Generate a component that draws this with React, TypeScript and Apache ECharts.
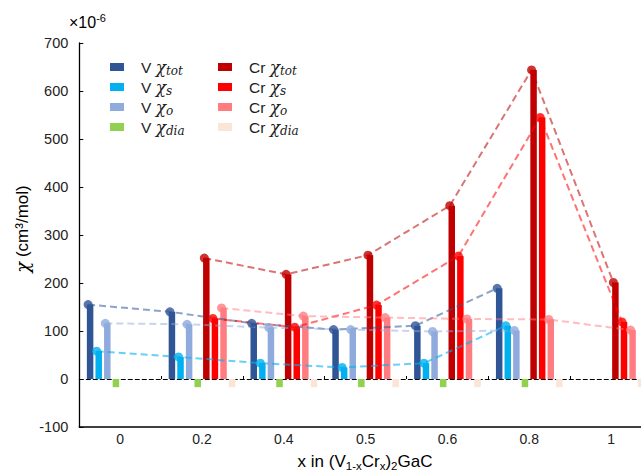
import { useEffect, useRef } from 'react';
import * as echarts from 'echarts';

// ---- data ----
const categories = ['0', '0.2', '0.4', '0.5', '0.6', '0.8', '1'];
const vTot = [155, 140, 116, 103, 111, 189, null];
const vS = [58, 46, 33, 24, 33, 111, null];
const vO = [116, 114, 107, 103, 99, 101, null];
const vDia = [-17, -17, -17, -17, -17, -17, null];
const crTot = [null, 252, 218, 258, 361, 644, 201];
const crS = [null, 126, 108, 154, 256, 545, 119];
const crO = [null, 148, 131, 128, 125, 124, 102];
const crDia = [null, -17, -17, -17, -17, -17, -17];
const yMin = -100;
const yMax = 700;
const yStep = 100;

// ---- layout / style ----
// the plot runs a little past the right edge of the 641px picture
const W = 652;
const H = 472;
const GRID_LEFT = 79.3;
const GRID_RIGHT = 0;
const GRID_TOP = 43;
const GRID_BOTTOM = 45;
const BAR_W = 6.5;
const BAR_GAP_PX = 2.1;
const MARKER_SHIFT = -2;
const FONT = 'Liberation Sans';
const MATH = 'DejaVu Serif';

type S = {
  name: string;
  prefix: string;
  sub: string;
  data: (number | null)[];
  color: string;
  line: boolean;
  lineOpacity: number;
};

const seriesDefs: S[] = [
  { name: 'V tot', prefix: 'V ', sub: 'tot', data: vTot, color: '#2F5597', line: true, lineOpacity: 0.55 },
  { name: 'V s', prefix: 'V ', sub: 's', data: vS, color: '#00B0F0', line: true, lineOpacity: 0.6 },
  { name: 'V o', prefix: 'V ', sub: 'o', data: vO, color: '#8FAADC', line: true, lineOpacity: 0.5 },
  { name: 'V dia', prefix: 'V ', sub: 'dia', data: vDia, color: '#92D050', line: false, lineOpacity: 0 },
  { name: 'Cr tot', prefix: 'Cr ', sub: 'tot', data: crTot, color: '#C00000', line: true, lineOpacity: 0.55 },
  { name: 'Cr s', prefix: 'Cr ', sub: 's', data: crS, color: '#FF0000', line: true, lineOpacity: 0.55 },
  { name: 'Cr o', prefix: 'Cr ', sub: 'o', data: crO, color: '#FF7C80', line: true, lineOpacity: 0.5 },
  { name: 'Cr dia', prefix: 'Cr ', sub: 'dia', data: crDia, color: '#FBE5D6', line: false, lineOpacity: 0 },
];

const legendRich = {
  sp: { width: 12 },
  b: { fontSize: 15.5, fontFamily: FONT, color: '#222', lineHeight: 20 },
  c: { fontSize: 17, fontFamily: MATH, fontStyle: 'italic', color: '#222', lineHeight: 20 },
  s: { fontSize: 12, fontFamily: MATH, fontStyle: 'italic', color: '#222', lineHeight: 12, verticalAlign: 'bottom' },
};

export default function App() {
  const ref = useRef<HTMLDivElement>(null);

  useEffect(() => {
    document.body.style.margin = '0';
    document.body.style.overflow = 'hidden';
    document.documentElement.style.overflow = 'hidden';
    if (!ref.current) return;
    const chart = echarts.init(ref.current, undefined, { renderer: 'svg' });

    const n = seriesDefs.length;
    const catW = (W - GRID_LEFT - GRID_RIGHT) / categories.length;
    const pitch = BAR_W + BAR_GAP_PX;
    const offsetOf = (k: number) => ((k - (n - 1) / 2) * pitch + MARKER_SHIFT) / catW;

    const barSeries = seriesDefs.map((s) => ({
      name: s.name,
      type: 'bar',
      xAxisIndex: 0,
      yAxisIndex: 0,
      data: s.data,
      barWidth: BAR_W,
      barGap: `${(BAR_GAP_PX / BAR_W) * 100}%`,
      itemStyle: { color: s.color },
      silent: true,
      z: 2,
    }));

    const lineSeries = seriesDefs
      .map((s, k) => ({ s, k }))
      .filter(({ s }) => s.line)
      .map(({ s, k }) => ({
        name: s.name + ' trend',
        type: 'line',
        xAxisIndex: 2,
        yAxisIndex: 0,
        data: s.data
          .map((v, i) => (v == null ? null : [i + 0.5 + offsetOf(k), v]))
          .filter((p) => p !== null),
        symbol: 'circle',
        symbolSize: 9,
        itemStyle: { color: s.color, opacity: 0.8 },
        lineStyle: { color: s.color, width: 2, type: [7, 4], opacity: s.lineOpacity },
        silent: true,
        z: 3,
      }));

    const legendFormatter = (name: string) => {
      const s = seriesDefs.find((d) => d.name === name)!;
      return `{sp| }{b|${s.prefix}}{c|χ}{s|${s.sub}}`;
    };

    const legendBase = {
      top: 52,
      orient: 'vertical',
      icon: 'rect',
      itemWidth: 14,
      itemHeight: 8,
      itemGap: 0,
      formatter: legendFormatter,
      textStyle: { rich: legendRich, lineHeight: 20 },
      selectedMode: false,
    };

    const option = {
      animation: false,
      textStyle: { fontFamily: FONT },
      grid: { left: GRID_LEFT, right: GRID_RIGHT, top: GRID_TOP, bottom: GRID_BOTTOM },
      legend: [
        { ...legendBase, left: 105, data: seriesDefs.slice(0, 4).map((s) => s.name) },
        { ...legendBase, left: 213, data: seriesDefs.slice(4).map((s) => s.name) },
      ],
      xAxis: [
        {
          type: 'category',
          position: 'bottom',
          data: categories,
          axisLine: { onZero: false, lineStyle: { color: '#000', width: 1.5 } },
          axisTick: { show: false },
          axisLabel: { fontSize: 14, color: '#222', margin: 5, fontFamily: FONT },
          splitLine: { show: false },
        },
        {
          type: 'category',
          position: 'top',
          data: categories,
          axisLine: { show: true, onZero: true, lineStyle: { color: '#000', width: 1.2, type: [4, 3] } },
          axisTick: { show: true, inside: false, length: 3, lineStyle: { color: '#000', width: 1 } },
          axisLabel: { show: false },
          splitLine: { show: false },
        },
        {
          type: 'value',
          min: 0,
          max: categories.length,
          show: false,
          axisLine: { onZero: false },
          splitLine: { show: false },
        },
      ],
      yAxis: {
        type: 'value',
        min: yMin,
        max: yMax,
        interval: yStep,
        axisLine: { show: true, onZero: false, lineStyle: { color: '#000', width: 1.3 } },
        axisTick: { show: true, inside: true, length: 4, lineStyle: { color: '#000' } },
        axisLabel: { fontSize: 14.5, color: '#222', margin: 11, fontFamily: FONT },
        splitLine: { show: false },
      },
      graphic: [
        {
          type: 'text',
          x: 69,
          y: 22,
          style: {
            text: '{a|×10}{e|-6}',
            verticalAlign: 'middle',
            rich: {
              a: { fontSize: 16, fontFamily: FONT, color: '#222', lineHeight: 20 },
              e: { fontSize: 11, fontFamily: FONT, color: '#222', lineHeight: 12, verticalAlign: 'top' },
            },
          },
        },
        {
          type: 'text',
          x: 22,
          y: 229,
          rotation: Math.PI / 2,
          style: {
            text: '{c|χ}{t| (cm³/mol)}',
            align: 'center',
            verticalAlign: 'middle',
            rich: {
              c: { fontSize: 18, fontFamily: MATH, fontStyle: 'italic', color: '#222', lineHeight: 22 },
              t: { fontSize: 17, fontFamily: FONT, color: '#222', lineHeight: 22 },
            },
          },
        },
        {
          type: 'text',
          x: 365,
          y: 461,
          style: {
            text: '{t|x in (V}{s|1-x}{t|Cr}{s|x}{t|)}{s|2}{t|GaC}',
            align: 'center',
            verticalAlign: 'middle',
            rich: {
              t: { fontSize: 17, fontFamily: FONT, color: '#222', lineHeight: 22 },
              s: { fontSize: 11.5, fontFamily: FONT, color: '#222', lineHeight: 14, verticalAlign: 'bottom' },
            },
          },
        },
      ],
      series: [...barSeries, ...lineSeries],
    };

    chart.setOption(option as any);
    return () => chart.dispose();
  }, []);

  return (
    <div
      ref={ref}
      style={{ width: W, height: H, position: 'absolute', left: 0, top: 0 }}
    />
  );
}
